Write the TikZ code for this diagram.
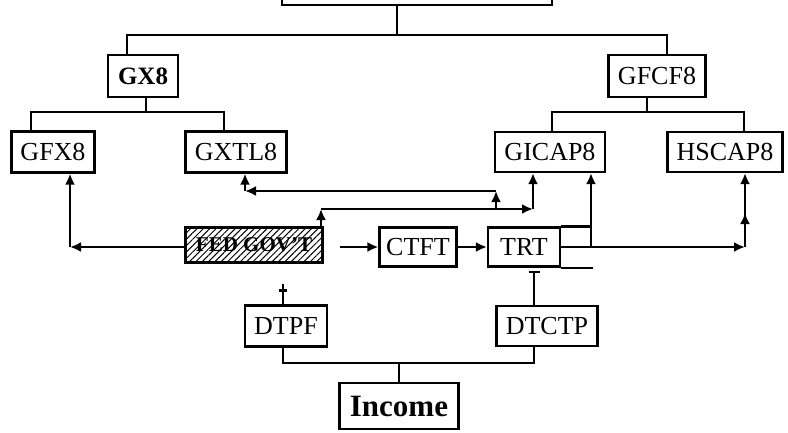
\documentclass[tikz,border=0pt]{standalone}
\usepackage{fontspec}
\setmainfont{Liberation Serif}
\usetikzlibrary{arrows.meta,patterns.meta}

\begin{document}
\begin{tikzpicture}[x=1pt,y=-1pt,line width=2.2pt,
    box/.style={draw,inner sep=0pt,font=\fontsize{26}{28}\selectfont},
    arr/.style={-{Latex[length=11pt,width=10pt]}},
    tbar/.style={-{Bar[width=11pt]}}]
    \useasboundingbox (0,0) rectangle (788,432);
    % boxes
    \node[box,minimum width=270pt,minimum height=40pt] (top) at (417,-15) {};
    \node[box,minimum width=70pt,minimum height=42pt,font=\fontsize{25}{28}\selectfont\bfseries] (GX8) at (143,76) {GX8};
    \node[box,minimum width=97pt,minimum height=42pt] (GFCF8) at (657,76) {GFCF8};
    \node[box,minimum width=83pt,minimum height=41pt] (GFX8) at (53,152) {GFX8};
    \node[box,minimum width=101pt,minimum height=41pt] (GXTL8) at (236,152) {GXTL8};
    \node[box,minimum width=110pt,minimum height=40pt] (GICAP8) at (550,152) {GICAP8};
    \node[box,minimum width=115pt,minimum height=40pt] (HSCAP8) at (725,152) {HSCAP8};
    \node[box,minimum width=137pt,minimum height=35pt,
      pattern={Lines[angle=45,distance=4.5pt,line width=1pt]},
      font=\fontsize{21}{24}\selectfont\bfseries] (FED) at (254,245) {FED GOV'T};
    \node[box,minimum width=77pt,minimum height=39pt] (CTFT) at (418,247) {CTFT};
    \node[box,minimum width=72pt,minimum height=39pt] (TRT) at (524,247) {TRT};
    \node[box,minimum width=82pt,minimum height=41pt] (DTPF) at (286,326) {DTPF};
    \node[box,minimum width=101pt,minimum height=40pt] (DTCTP) at (547,326) {DTCTP};
    \node[box,minimum width=119pt,minimum height=46pt,font=\fontsize{31}{34}\selectfont\bfseries] (Income) at (399,406) {Income};

    % tree lines
    \coordinate (t0) at (397,35);
    \coordinate (t1) at (146,112);
    \coordinate (t2) at (647,112);
    \draw (t0 |- top.south) -- (t0);
    \draw ([xshift=-16pt]GX8.north) |- (t0) -| ([xshift=10pt]GFCF8.north);
    \draw (t1 |- GX8.south) -- (t1);
    \draw ([xshift=-22pt]GFX8.north) |- (t1) -| ([xshift=-12pt]GXTL8.north);
    \draw (t2 |- GFCF8.south) -- (t2);
    \draw ([xshift=2pt]GICAP8.north) |- (t2) -| ([xshift=19pt]HSCAP8.north);

    % FED GOV'T flows
    \coordinate (c1) at (70,247);
    \draw[arr] (FED.west |- c1) -- (c1);
    \draw[arr] (c1) -- (c1 |- GFX8.south);
    \coordinate (c2) at (321,209);
    \coordinate (c3) at (533,209);
    \draw[arr] (c2 |- FED.north) -- (c2);
    \draw[arr] (c2) -- (c3);
    \draw[arr] (c3) -- (c3 |- GICAP8.south);
    \coordinate (c4) at (496,191);
    \coordinate (c5) at (245,191);
    \draw[arr] (c4 |- c2) -- (c4);
    \draw[arr] (c4) -- (c5);
    \draw[arr] (c5) -- (c5 |- GXTL8.south);
    \coordinate (c6) at (340,247);
    \draw[arr] (c6) -- (CTFT.west);
    \draw[arr] (CTFT) -- (TRT);

    % TRT
    \draw (TRT.north east) -- ++(31,0);
    \draw (TRT.south east) -- ++(32,0);
    \coordinate (c7) at (591,247);
    \draw[arr] (c7) -- (c7 |- GICAP8.south);
    \coordinate (c8) at (745,247);
    \draw[arr] (TRT.east) -- (c8);
    \draw[arr] (c8) -- ++(0,-34);
    \draw[arr] (c8) -- (c8 |- HSCAP8.south);
    \coordinate (c9) at (534,271);
    \draw[tbar] (c9 |- DTCTP.north) -- (c9);

    % income
    \draw ([xshift=-3pt]DTPF.north) -- ++(0,-20);
    \draw ([xshift=-7pt,yshift=14pt]DTPF.north) -- ++(8,0);
    \coordinate (c10) at (399,363);
    \draw ([xshift=-3pt]DTPF.south) |- (c10) -| ([xshift=-13pt]DTCTP.south);
    \draw (Income.north) -- (c10);
   \end{tikzpicture}
\end{document}
